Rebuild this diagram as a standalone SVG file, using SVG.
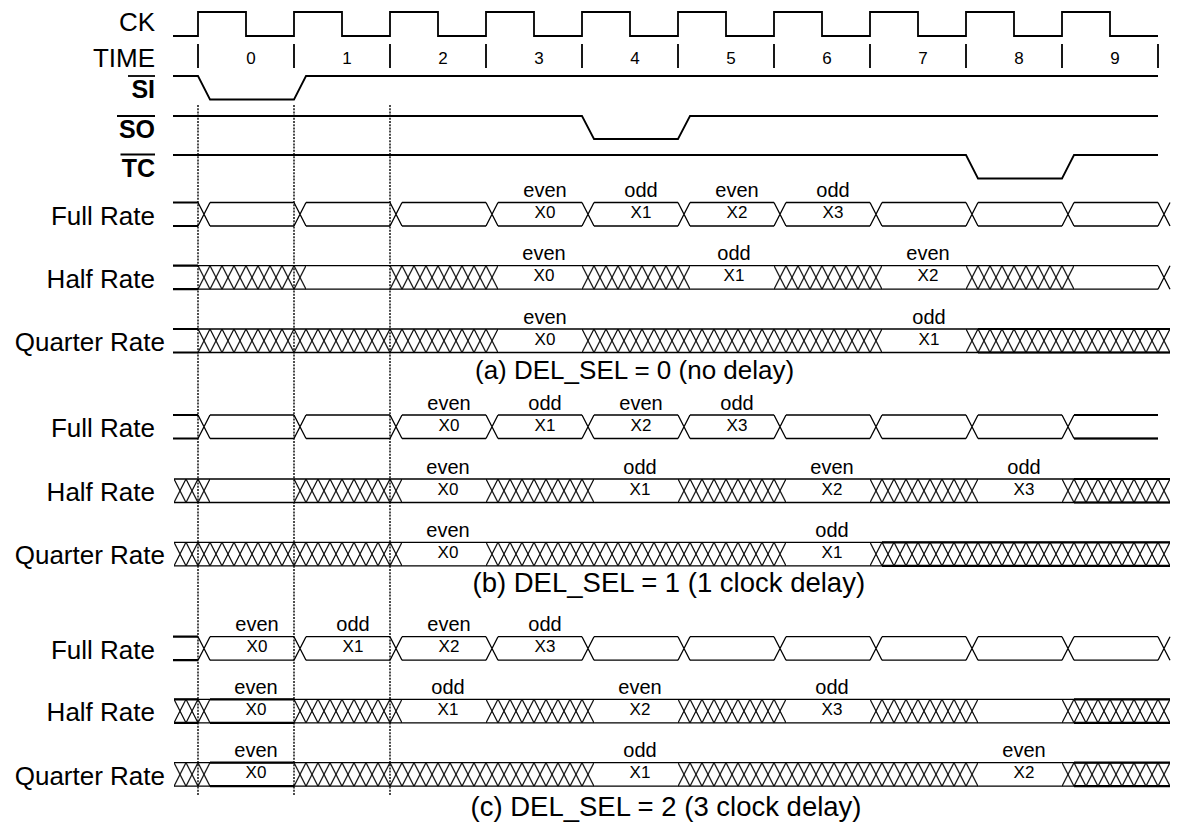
<svg xmlns="http://www.w3.org/2000/svg" xmlns:xlink="http://www.w3.org/1999/xlink" width="1177" height="825" viewBox="0 0 1177 825">
<style>
.w{fill:none;stroke:#000;stroke-width:1.3}
.k{stroke-width:2.2}
.s{fill:none;stroke:#000;stroke-width:1.8}
.dot{fill:none;stroke:#000;stroke-width:1.4;stroke-dasharray:2 1.2}
text{font-family:"Liberation Sans",Arial,Helvetica,sans-serif;fill:#000}
.lbl{font-size:26px;text-anchor:end}
.b{font-weight:bold;font-size:25px}
.num{font-size:17px;text-anchor:middle}
.eo{font-size:20px;text-anchor:middle}
.xv{font-size:17px;text-anchor:middle}
.cap{font-size:26px}
.cap2{font-size:27.5px}
.hr{fill:url(#hp);stroke:none}
</style>
<defs>
<pattern id="hp" patternUnits="userSpaceOnUse" x="6" y="0" width="12" height="23.5">
<path d="M0 0L12 23.5M0 23.5L12 0" fill="none" stroke="#000" stroke-width="1.2"/>
</pattern>
<path id="x" class="w" d="M0 0L12 23.5M0 23.5L12 0"/>
<path id="lead" class="w k" d="M173 0H198M173 23.5H198"/>
<path id="fullflat" class="w" d="M210 0H294M306 0H390M402 0H486M498 0H582M594 0H678M690 0H774M786 0H870M882 0H966M978 0H1062M1074 0H1158M210 23.5H294M306 23.5H390M402 23.5H486M498 23.5H582M594 23.5H678M690 23.5H774M786 23.5H870M882 23.5H966M978 23.5H1062M1074 23.5H1158"/>
<g id="fullx">
<use href="#x" x="198"/><use href="#x" x="294"/><use href="#x" x="390"/><use href="#x" x="486"/><use href="#x" x="582"/><use href="#x" x="678"/><use href="#x" x="774"/><use href="#x" x="870"/><use href="#x" x="966"/><use href="#x" x="1062"/>
</g>
</defs>

<g id="ck">
<text class="lbl" x="155" y="31">CK</text>
<path class="s" stroke-width="2.2" d="M173 36H198V12H246V36H294V12H342V36H390V12H438V36H486V12H534V36H582V12H630V36H678V12H726V36H774V12H822V36H870V12H918V36H966V12H1014V36H1062V12H1110V36H1158"/>
</g>

<g id="time">
<text class="lbl" x="155" y="66.5">TIME</text>
<path class="s" stroke-width="2.4" d="M198 44V68M294 44V68M390 44V68M486 44V68M582 44V68M678 44V68M774 44V68M870 44V68M966 44V68M1062 44V68M1158 44V68"/>
<text class="num" x="251" y="63.5">0</text>
<text class="num" x="347" y="63.5">1</text>
<text class="num" x="443" y="63.5">2</text>
<text class="num" x="539" y="63.5">3</text>
<text class="num" x="635" y="63.5">4</text>
<text class="num" x="731" y="63.5">5</text>
<text class="num" x="827" y="63.5">6</text>
<text class="num" x="923" y="63.5">7</text>
<text class="num" x="1019" y="63.5">8</text>
<text class="num" x="1115" y="63.5">9</text>
</g>

<g id="si">
<text class="lbl b" x="155" y="98">SI</text>
<path class="s" d="M128 76H155"/>
<path class="s" d="M173 76H198L210 99.5H294L306 76H1158"/>
</g>
<g id="so">
<text class="lbl b" x="155" y="137.5">SO</text>
<path class="s" d="M117 116H155"/>
<path class="s" d="M173 116H582L594 139H678L690 116H1158"/>
</g>
<g id="tc">
<text class="lbl b" x="155" y="177">TC</text>
<path class="s" d="M120.5 154.5H155"/>
<path class="s" d="M173 155H966L978 178.5H1062L1074 155H1158"/>
</g>

<!-- (a) DEL_SEL = 0 -->
<g id="a-full" transform="translate(0,202.5)">
<text class="lbl" x="155" y="22">Full Rate</text>
<use href="#lead"/><use href="#fullflat"/><use href="#fullx"/><use href="#x" x="1158"/>
<text class="eo" x="545" y="-5.5">even</text><text class="xv" x="545" y="15.5">X0</text>
<text class="eo" x="641" y="-5.5">odd</text><text class="xv" x="641" y="15.5">X1</text>
<text class="eo" x="737" y="-5.5">even</text><text class="xv" x="737" y="15.5">X2</text>
<text class="eo" x="833" y="-5.5">odd</text><text class="xv" x="833" y="15.5">X3</text>
</g>
<g id="a-half" transform="translate(0,265.7)">
<text class="lbl" x="155" y="22">Half Rate</text>
<use href="#lead"/>
<rect class="hr" x="198" y="0" width="108" height="23.5"/>
<rect class="hr" x="390" y="0" width="108" height="23.5"/>
<rect class="hr" x="582" y="0" width="108" height="23.5"/>
<rect class="hr" x="774" y="0" width="108" height="23.5"/>
<rect class="hr" x="966" y="0" width="108" height="23.5"/>
<path class="w" d="M198 0H1158M198 23.5H1158"/>
<use href="#x" x="1158"/>
<text class="eo" x="544" y="-5.5">even</text><text class="xv" x="544" y="15.5">X0</text>
<text class="eo" x="734" y="-5.5">odd</text><text class="xv" x="734" y="15.5">X1</text>
<text class="eo" x="928" y="-5.5">even</text><text class="xv" x="928" y="15.5">X2</text>
</g>
<g id="a-quarter" transform="translate(0,329)">
<text class="lbl" x="165" y="22">Quarter Rate</text>
<use href="#lead"/>
<rect class="hr" x="198" y="0" width="300" height="23.5"/>
<rect class="hr" x="582" y="0" width="300" height="23.5"/>
<rect class="hr" x="966" y="0" width="204" height="23.5"/>
<path class="w" d="M198 0H1170M198 23.5H1170"/>
<path class="w k" d="M978 0H1170M978 23.5H1170"/>
<text class="eo" x="545" y="-5.5">even</text><text class="xv" x="545" y="15.5">X0</text>
<text class="eo" x="929" y="-5.5">odd</text><text class="xv" x="929" y="15.5">X1</text>
</g>
<text id="cap-a" class="cap" x="475" y="378.5">(a) DEL_SEL = 0 (no delay)</text>

<!-- (b) DEL_SEL = 1 -->
<g id="b-full" transform="translate(0,415)">
<text class="lbl" x="155" y="22">Full Rate</text>
<use href="#lead"/><use href="#fullflat"/><use href="#fullx"/>
<path class="w k" d="M1074 0H1158M1074 23.5H1158"/>
<text class="eo" x="449" y="-5.5">even</text><text class="xv" x="449" y="15.5">X0</text>
<text class="eo" x="545" y="-5.5">odd</text><text class="xv" x="545" y="15.5">X1</text>
<text class="eo" x="641" y="-5.5">even</text><text class="xv" x="641" y="15.5">X2</text>
<text class="eo" x="737" y="-5.5">odd</text><text class="xv" x="737" y="15.5">X3</text>
</g>
<g id="b-half" transform="translate(0,479)">
<text class="lbl" x="155" y="22">Half Rate</text>
<rect class="hr" x="174" y="0" width="36" height="23.5"/>
<rect class="hr" x="294" y="0" width="108" height="23.5"/>
<rect class="hr" x="486" y="0" width="108" height="23.5"/>
<rect class="hr" x="678" y="0" width="108" height="23.5"/>
<rect class="hr" x="870" y="0" width="108" height="23.5"/>
<rect class="hr" x="1062" y="0" width="108" height="23.5"/>
<path class="w" d="M174 0H1170M174 23.5H1170"/>
<path class="w k" d="M1074 0H1170M1074 23.5H1170"/>
<text class="eo" x="448" y="-5.5">even</text><text class="xv" x="448" y="15.5">X0</text>
<text class="eo" x="640" y="-5.5">odd</text><text class="xv" x="640" y="15.5">X1</text>
<text class="eo" x="832" y="-5.5">even</text><text class="xv" x="832" y="15.5">X2</text>
<text class="eo" x="1024" y="-5.5">odd</text><text class="xv" x="1024" y="15.5">X3</text>
</g>
<g id="b-quarter" transform="translate(0,542.3)">
<text class="lbl" x="165" y="22">Quarter Rate</text>
<rect class="hr" x="174" y="0" width="228" height="23.5"/>
<rect class="hr" x="486" y="0" width="300" height="23.5"/>
<rect class="hr" x="870" y="0" width="300" height="23.5"/>
<path class="w" d="M174 0H1170M174 23.5H1170"/>
<path class="w k" d="M882 0H1170M882 23.5H1170"/>
<text class="eo" x="448" y="-5.5">even</text><text class="xv" x="448" y="15.5">X0</text>
<text class="eo" x="832" y="-5.5">odd</text><text class="xv" x="832" y="15.5">X1</text>
</g>
<text id="cap-b" class="cap2" x="472.5" y="591.5">(b) DEL_SEL = 1 (1 clock delay)</text>

<!-- (c) DEL_SEL = 2 -->
<g id="c-full" transform="translate(0,636.7)">
<text class="lbl" x="155" y="22">Full Rate</text>
<use href="#lead"/><use href="#fullflat"/><use href="#fullx"/><use href="#x" x="1158"/>
<text class="eo" x="257" y="-5.5">even</text><text class="xv" x="257" y="15.5">X0</text>
<text class="eo" x="353" y="-5.5">odd</text><text class="xv" x="353" y="15.5">X1</text>
<text class="eo" x="449" y="-5.5">even</text><text class="xv" x="449" y="15.5">X2</text>
<text class="eo" x="545" y="-5.5">odd</text><text class="xv" x="545" y="15.5">X3</text>
</g>
<g id="c-half" transform="translate(0,699.3)">
<text class="lbl" x="155" y="22">Half Rate</text>
<rect class="hr" x="174" y="0" width="36" height="23.5"/>
<rect class="hr" x="294" y="0" width="108" height="23.5"/>
<rect class="hr" x="486" y="0" width="108" height="23.5"/>
<rect class="hr" x="678" y="0" width="108" height="23.5"/>
<rect class="hr" x="870" y="0" width="108" height="23.5"/>
<rect class="hr" x="1062" y="0" width="108" height="23.5"/>
<path class="w" d="M174 0H1170M174 23.5H1170"/>
<path class="w k" d="M1074 0H1170M1074 23.5H1170M174 0H198M174 23.5H198"/>
<path class="w k" d="M210 0H294M210 23.5H294"/>
<text class="eo" x="256" y="-5.5">even</text><text class="xv" x="256" y="15.5">X0</text>
<text class="eo" x="448" y="-5.5">odd</text><text class="xv" x="448" y="15.5">X1</text>
<text class="eo" x="640" y="-5.5">even</text><text class="xv" x="640" y="15.5">X2</text>
<text class="eo" x="832" y="-5.5">odd</text><text class="xv" x="832" y="15.5">X3</text>
</g>
<g id="c-quarter" transform="translate(0,762.7)">
<text class="lbl" x="165" y="22">Quarter Rate</text>
<rect class="hr" x="174" y="0" width="36" height="23.5"/>
<rect class="hr" x="294" y="0" width="300" height="23.5"/>
<rect class="hr" x="678" y="0" width="300" height="23.5"/>
<rect class="hr" x="1062" y="0" width="108" height="23.5"/>
<path class="w" d="M174 0H1170M174 23.5H1170"/>
<path class="w k" d="M1074 0H1170M1074 23.5H1170M210 0H294M210 23.5H294"/>
<text class="eo" x="256" y="-5.5">even</text><text class="xv" x="256" y="15.5">X0</text>
<text class="eo" x="640" y="-5.5">odd</text><text class="xv" x="640" y="15.5">X1</text>
<text class="eo" x="1024" y="-5.5">even</text><text class="xv" x="1024" y="15.5">X2</text>
</g>
<text id="cap-c" class="cap2" x="470.5" y="816">(c) DEL_SEL = 2 (3 clock delay)</text>

<g id="markers">
<path class="dot" d="M198 105V796M294 105V796M390 105V796"/>
</g>
</svg>
